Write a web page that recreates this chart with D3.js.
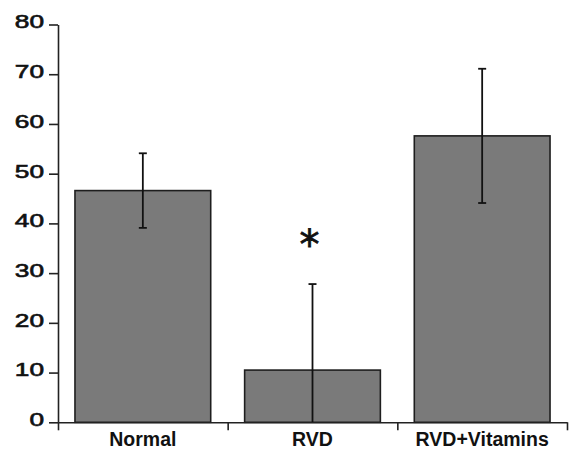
<!DOCTYPE html>
<html>
<head>
<meta charset="utf-8">
<script src="https://cdn.jsdelivr.net/npm/d3@7"></script>
<style>
  body { margin: 0; background: #fff; }
  svg { display: block; }
</style>
</head>
<body>
<svg id="chart" width="575" height="450"></svg>
<script>
// data
const groups = ["Normal", "RVD", "RVD+Vitamins"]
const means = [46.6, 10.5, 57.6]
const errs = [7.5, 17.3, 13.5]
const yTicks = [0, 10, 20, 30, 40, 50, 60, 70, 80]
const marks = ["", "*", ""]

const svg = d3.select("#chart")
const plotLeft = 58, plotRight = 567, plotTop = 24.5, plotBottom = 422.3

const x = d3.scaleBand().domain(groups).range([plotLeft, plotRight]).paddingInner(0.2).paddingOuter(0.1)
const xEdge = d3.scaleLinear().domain([0, groups.length]).range([plotLeft, plotRight])
const y = d3.scaleLinear().domain([0, 80]).range([plotBottom, plotTop])

const rows = groups.map((g, i) => ({ g, m: means[i], e: errs[i], mark: marks[i] }))

// bars
svg.append("g").selectAll("rect").data(rows).join("rect")
  .attr("x", d => x(d.g))
  .attr("y", d => y(d.m))
  .attr("width", x.bandwidth())
  .attr("height", d => y(0) - y(d.m))
  .attr("fill", "#7a7a7a")
  .attr("stroke", "#1e1e1e")
  .attr("stroke-width", 1.6)

// error bars
const eb = svg.append("g").attr("stroke", "#111").attr("stroke-width", 1.8)
rows.forEach(d => {
  const cx = x(d.g) + x.bandwidth() / 2
  const lo = Math.max(0, d.m - d.e), hi = d.m + d.e
  eb.append("line").attr("x1", cx).attr("x2", cx).attr("y1", y(lo)).attr("y2", y(hi))
  eb.append("line").attr("x1", cx - 4).attr("x2", cx + 4).attr("y1", y(hi)).attr("y2", y(hi))
  if (lo > 0) eb.append("line").attr("x1", cx - 4).attr("x2", cx + 4).attr("y1", y(lo)).attr("y2", y(lo))
})

// significance mark
svg.append("g").selectAll("text").data(rows.filter(d => d.mark)).join("text")
  .attr("x", d => x(d.g) + x.bandwidth() / 2 - 3)
  .attr("y", 259)
  .attr("text-anchor", "middle")
  .attr("font-family", "DejaVu Sans, sans-serif")
  .attr("font-size", 40)
  .attr("fill", "#111")
  .attr("stroke", "#111")
  .attr("stroke-width", 0.8)
  .text(d => d.mark)

// y axis
const yAxis = svg.append("g")
  .attr("transform", `translate(${plotLeft},0)`)
  .call(d3.axisLeft(y).tickValues(yTicks).tickSize(9).tickSizeOuter(0))
yAxis.selectAll("path, line").attr("stroke", "#222").attr("stroke-width", 1.6)
yAxis.selectAll("text")
  .attr("x", -14 / 1.5)
  .attr("dy", "0.19em")
  .attr("transform", "scale(1.5,1)")
  .attr("font-family", "Liberation Sans, Arial, sans-serif")
  .attr("font-size", 17.5)
  .attr("fill", "#111")
  .attr("stroke", "#111")
  .attr("stroke-width", 0.6)

// x axis: boundary ticks
const xAxis = svg.append("g")
  .attr("transform", `translate(0,${plotBottom})`)
  .call(d3.axisBottom(xEdge).tickValues(d3.range(groups.length + 1)).tickSize(8).tickSizeOuter(0).tickFormat(""))
xAxis.selectAll("path, line").attr("stroke", "#222").attr("stroke-width", 1.6)

// x axis: category labels
const xLab = svg.append("g")
  .attr("transform", `translate(0,${plotBottom})`)
  .call(d3.axisBottom(x).tickSize(0).tickPadding(9))
xLab.select(".domain").remove()
xLab.selectAll("text")
  .attr("dy", "0.76em")
  .attr("font-family", "Liberation Sans, Arial, sans-serif")
  .attr("font-size", 19.5)
  .attr("font-weight", "bold")
  .attr("fill", "#111")
</script>
</body>
</html>
